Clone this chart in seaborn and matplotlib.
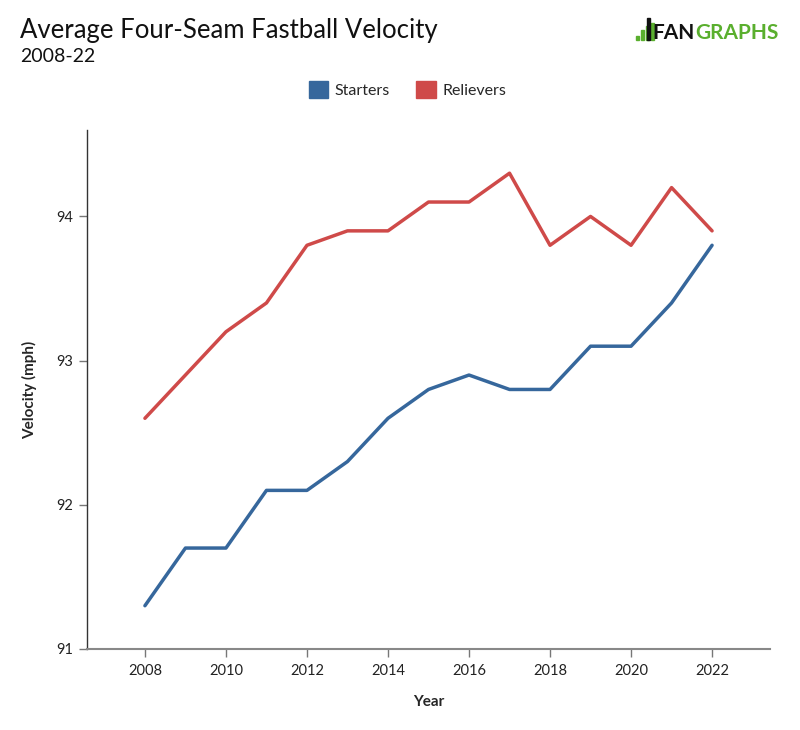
import numpy as np
import matplotlib
matplotlib.use("Agg")
import matplotlib.pyplot as plt
import pandas as pd
import seaborn as sns

years = list(range(2008, 2023))
starters = [91.3, 91.7, 91.7, 92.1, 92.1, 92.3, 92.6, 92.8, 92.9, 92.8, 92.8, 93.1, 93.1, 93.4, 93.8]
relievers = [92.6, 92.9, 93.2, 93.4, 93.8, 93.9, 93.9, 94.1, 94.1, 94.3, 93.8, 94.0, 93.8, 94.2, 93.9]
x_ticks = [2008, 2010, 2012, 2014, 2016, 2018, 2020, 2022]
y_ticks = [91, 92, 93, 94]

COLORS = {"Starters": "#36679c", "Relievers": "#cf4a49"}
GREEN = "#5aaf2e"

sns.set_style("white")
plt.rcParams["font.family"] = ["Lato", "DejaVu Sans"]

df = pd.DataFrame({"Year": years * 2,
                   "Velocity": starters + relievers,
                   "Role": ["Starters"] * len(years) + ["Relievers"] * len(years)})

fig = plt.figure(figsize=(8, 7.3), dpi=100)
ax = fig.add_axes([0.10875, 0.111, 0.85375, 0.711])

sns.lineplot(data=df, x="Year", y="Velocity", hue="Role", palette=COLORS,
             linewidth=2.5, ax=ax, legend=False)

ax.set_xlim(2006.57, 2023.43)
ax.set_ylim(91, 94.6)
ax.set_xticks(x_ticks)
ax.set_yticks(y_ticks)
ax.tick_params(axis="both", bottom=True, left=True, length=6, width=1, color="#777777",
               labelsize=10.5, labelcolor="#222222", direction="out")
ax.tick_params(axis="x", pad=5)
ax.tick_params(axis="y", pad=4)
for s in ["top", "right"]:
    ax.spines[s].set_visible(False)
ax.spines["left"].set_color("#333333")
ax.spines["bottom"].set_color("#888888")
ax.spines["left"].set_linewidth(1)
ax.spines["bottom"].set_linewidth(1.5)
ax.set_xlabel("Year", fontsize=11, fontweight="bold", labelpad=12)
ax.set_ylabel("Velocity (mph)", fontsize=11, fontweight="bold", labelpad=14)

fig.text(0.025, 0.958, "Average Four-Seam Fastball Velocity", fontsize=18.5,
         color="#111111", va="center")
fig.text(0.025, 0.922, "2008-22", fontsize=14, color="#111111", va="center")

# legend
handles = [plt.Rectangle((0, 0), 1, 1, color=COLORS[k]) for k in ["Starters", "Relievers"]]
fig.legend(handles, ["Starters", "Relievers"], loc="center", bbox_to_anchor=(0.509, 0.877),
           ncol=2, frameon=False, fontsize=11.5, handlelength=1.25, handleheight=1.25,
           handletextpad=0.4, columnspacing=1.6)

# logo: little bar icon plus wordmark
for bx, bh in [(0.7955, 0.006), (0.8015, 0.014), (0.8075, 0.02), (0.8135, 0.024)]:
    fig.add_artist(plt.Rectangle((bx, 0.945), 0.0035, bh, color=GREEN,
                                 transform=fig.transFigure))
fig.add_artist(plt.Rectangle((0.8085, 0.945), 0.004, 0.03, color="#111111",
                             transform=fig.transFigure))
fig.text(0.868, 0.955, "FAN", fontsize=15, color="#111111", fontweight="bold",
         va="center", ha="right")
fig.text(0.869, 0.955, "GRAPHS", fontsize=15, color=GREEN, fontweight="bold",
         va="center", ha="left")

fig.savefig("out.png", dpi=100)
